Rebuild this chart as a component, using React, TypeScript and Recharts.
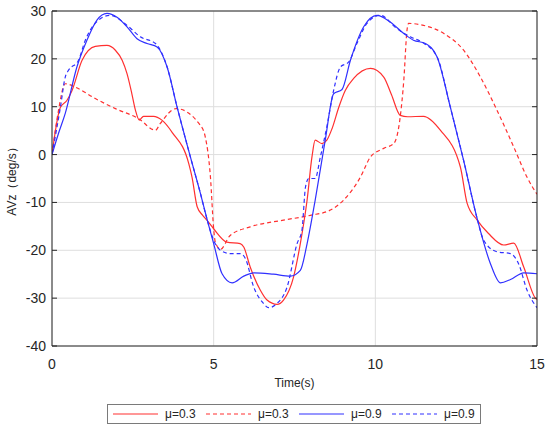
import { LineChart, Line, XAxis, YAxis, CartesianGrid, Legend } from "recharts";

const FONT = '"Liberation Sans", Arial, sans-serif';
const AXIS_COLOR = "#262626";
const RED = "#ff3030";
const BLUE = "#3030ff";

const xTicks = [0, 5, 10, 15];
const yTicks = [-40, -30, -20, -10, 0, 10, 20, 30];

// μ=0.3 solid
const redSolidT = [0, 0.26, 0.46, 0.62, 0.93, 1.34, 1.7, 1.96, 2.17, 2.32, 2.47, 2.58, 2.7, 2.83, 3.14, 3.4, 3.72, 4.23, 4.33, 4.49, 4.65, 4.79, 5.0, 5.41, 5.82, 5.93, 6.13, 6.44, 6.65, 6.96, 7.16, 7.47, 7.68, 7.89, 8.04, 8.14, 8.35, 8.5, 8.66, 8.87, 9.07, 9.33, 9.85, 10.26, 10.5, 10.77, 11.0, 11.49, 12.01, 12.63, 12.84, 13.15, 13.5, 13.97, 14.28, 14.59, 14.95, 15];
const redSolidV = [0, 9.9, 11.3, 13.4, 19.7, 22.6, 22.8, 21.8, 19.7, 16.9, 12.7, 9.3, 7.2, 8.0, 8.0, 7.2, 4.6, -1.9, -4.7, -10.9, -12.6, -13.7, -15.5, -18.3, -18.6, -19.3, -23.5, -28.3, -30.4, -31.3, -30.4, -25.6, -18.6, -9.5, -0.5, 3.0, 2.3, 3.0, 5.4, 9.9, 13.4, 15.9, 18.0, 16.2, 12.5, 8.2, 7.9, 8.0, 5.1, -2.6, -10.2, -13.7, -16.5, -18.9, -18.5, -23.5, -30, -30.3];

// μ=0.3 dashed
const redDashT = [0, 0.2, 0.41, 0.72, 1.34, 1.96, 2.68, 3.2, 3.35, 3.84, 4.59, 4.74, 4.9, 5.0, 5.05, 5.21, 5.51, 6.13, 7.16, 7.99, 8.61, 9.02, 9.54, 9.85, 10.26, 10.57, 10.77, 10.88, 10.98, 11.03, 11.49, 12.12, 12.73, 13.25, 13.76, 14.28, 14.69, 15];
const redDashV = [0, 9.2, 14.8, 14.1, 11.7, 9.6, 7.5, 5.1, 6.5, 9.6, 6.1, 3.7, -4.7, -15.5, -18.3, -19.8, -16.9, -15.1, -13.7, -12.7, -11.6, -9.5, -4.7, -0.5, 1.3, 2.3, 7.9, 15.5, 26, 27.4, 27, 25.3, 21.8, 16.2, 9.3, 1.6, -4.7, -8.3];

// μ=0.9 solid
const blueSolidT = [0, 0.2, 0.41, 0.77, 1.08, 1.39, 1.7, 2.01, 2.32, 2.63, 2.94, 3.25, 3.56, 3.87, 4.28, 4.59, 4.79, 5.0, 5.26, 5.57, 5.93, 6.24, 6.85, 7.37, 7.68, 7.89, 8.14, 8.45, 8.71, 8.97, 9.23, 9.64, 10.05, 10.46, 10.88, 11.18, 11.55, 11.91, 12.32, 12.73, 13.15, 13.56, 13.87, 14.18, 14.59, 15];
const blueSolidV = [0, 4.4, 8.6, 18.3, 23.9, 28.1, 29.5, 28.7, 26.7, 24.2, 23.2, 22.5, 18.3, 9.9, -0.5, -8.1, -13.4, -18.6, -24.9, -26.8, -25.4, -24.7, -25, -25.4, -24.2, -18.6, -9.5, 3, 12.7, 13.6, 19.7, 26.7, 29.1, 27.7, 25.3, 23.9, 23.2, 20.4, 9.9, -1.2, -13.4, -22.8, -26.8, -26.1, -24.7, -24.9];

// μ=0.9 dashed
const blueDashT = [0, 0.26, 0.41, 0.5, 0.82, 1.03, 1.39, 1.8, 2.32, 2.73, 3.2, 3.56, 3.87, 4.28, 4.59, 4.79, 5.0, 5.21, 5.51, 5.82, 5.98, 6.24, 6.54, 6.7, 6.96, 7.27, 7.58, 7.73, 7.84, 7.94, 8.14, 8.3, 8.5, 8.71, 8.92, 9.17, 9.43, 9.74, 10.15, 10.67, 11.08, 11.44, 11.91, 12.32, 12.73, 13.15, 13.35, 13.76, 14.18, 14.43, 14.69, 15];
const blueDashV = [0, 9.9, 16.2, 17.5, 19.7, 23.9, 27.8, 29.1, 27, 24.6, 23.2, 18.3, 9.9, -0.5, -8.1, -13.4, -17.9, -20, -20.7, -20.7, -21.7, -27.7, -31.1, -32, -31.1, -27.7, -18.6, -15.8, -6.8, -5.0, -5.0, -0.5, 5.8, 13.4, 18.3, 19.3, 23.2, 27.4, 29.1, 26.3, 24.6, 23.5, 20.4, 9.9, -1.2, -13.4, -17.9, -20.3, -20.7, -22.8, -28.3, -32];

const toRows = (ts: number[], vs: number[], key: string) =>
  ts.map((t, i) => ({ t, [key]: vs[i] }));

const redSolid = toRows(redSolidT, redSolidV, "rs");
const redDash = toRows(redDashT, redDashV, "rd");
const blueSolid = toRows(blueSolidT, blueSolidV, "bs");
const blueDash = toRows(blueDashT, blueDashV, "bd");

const EmptyTick = () => <g />;

const LegendBox = (props: any) => {
  const items = props.payload || [];
  return (
    <div
      style={{
        display: "flex",
        alignItems: "center",
        boxSizing: "border-box",
        height: 20,
        width: 374,
        border: "1px solid #7a7a7a",
        background: "#fff",
        fontFamily: FONT,
        fontSize: 12,
        color: AXIS_COLOR,
      }}
    >
      {items.map((entry: any, i: number) => (
        <div key={`leg-${i}`} style={{ display: "flex", alignItems: "center", width: 93 }}>
          <svg width={45} height={4} style={{ marginLeft: 5, marginRight: 7 }}>
            <line
              x1={0}
              y1={2}
              x2={45}
              y2={2}
              stroke={entry.color}
              strokeWidth={1.2}
              strokeDasharray={entry.payload?.strokeDasharray}
            />
          </svg>
          <span>{entry.value}</span>
        </div>
      ))}
    </div>
  );
};

export default function App() {
  return (
    <div style={{ position: "absolute", left: 0, top: 0, background: "#fff" }}>
      <LineChart
        width={550}
        height={430}
        margin={{ top: 11, right: 13, left: 0, bottom: 0 }}
        style={{ fontFamily: FONT }}
      >
        <CartesianGrid xAxisId="b" yAxisId="l" stroke="#dedede" strokeWidth={1} />
        <XAxis
          xAxisId="b"
          dataKey="t"
          type="number"
          domain={[0, 15]}
          ticks={xTicks}
          allowDataOverflow
          height={64}
          tickLine={false}
          tickSize={6}
          tickMargin={7}
          axisLine={{ stroke: AXIS_COLOR }}
          tick={{ fontSize: 14, fill: AXIS_COLOR }}
          label={{ value: "Time(s)", position: "insideTop", offset: 32, fontSize: 12, fill: AXIS_COLOR }}
        />
        <XAxis
          xAxisId="bm"
          type="number"
          domain={[0, 15]}
          ticks={xTicks}
          allowDataOverflow
          mirror
          axisLine={false}
          tickSize={5}
          tickLine={{ stroke: AXIS_COLOR }}
          tick={EmptyTick}
        />
        <XAxis
          xAxisId="tm"
          orientation="top"
          type="number"
          domain={[0, 15]}
          ticks={xTicks}
          allowDataOverflow
          mirror
          axisLine={{ stroke: AXIS_COLOR }}
          tickSize={5}
          tickLine={{ stroke: AXIS_COLOR }}
          tick={EmptyTick}
        />
        <YAxis
          yAxisId="l"
          type="number"
          domain={[-40, 30]}
          ticks={yTicks}
          allowDataOverflow
          width={52}
          tickLine={false}
          tickSize={4}
          tickMargin={2}
          axisLine={{ stroke: AXIS_COLOR }}
          tick={{ fontSize: 14, fill: AXIS_COLOR }}
          label={{
            value: "AVz（deg/s）",
            angle: -90,
            position: "insideLeft",
            offset: 12,
            fontSize: 12,
            fill: AXIS_COLOR,
            style: { textAnchor: "middle" },
          }}
        />
        <YAxis
          yAxisId="lm"
          type="number"
          domain={[-40, 30]}
          ticks={yTicks}
          allowDataOverflow
          mirror
          axisLine={false}
          tickSize={5}
          tickLine={{ stroke: AXIS_COLOR }}
          tick={EmptyTick}
        />
        <YAxis
          yAxisId="rm"
          orientation="right"
          type="number"
          domain={[-40, 30]}
          ticks={yTicks}
          allowDataOverflow
          mirror
          axisLine={{ stroke: AXIS_COLOR }}
          tickSize={5}
          tickLine={{ stroke: AXIS_COLOR }}
          tick={EmptyTick}
        />
        <Legend
          verticalAlign="bottom"
          content={LegendBox}
          wrapperStyle={{ left: 107, bottom: 6, width: 374, height: 20 }}
        />
        <Line
          xAxisId="b"
          yAxisId="l"
          data={redSolid}
          dataKey="rs"
          name="μ=0.3"
          type="monotone"
          stroke={RED}
          strokeWidth={1.2}
          dot={false}
          isAnimationActive={false}
        />
        <Line
          xAxisId="b"
          yAxisId="l"
          data={redDash}
          dataKey="rd"
          name="μ=0.3"
          type="monotone"
          stroke={RED}
          strokeWidth={1.2}
          strokeDasharray="4 3"
          dot={false}
          isAnimationActive={false}
        />
        <Line
          xAxisId="b"
          yAxisId="l"
          data={blueSolid}
          dataKey="bs"
          name="μ=0.9"
          type="monotone"
          stroke={BLUE}
          strokeWidth={1.2}
          dot={false}
          isAnimationActive={false}
        />
        <Line
          xAxisId="b"
          yAxisId="l"
          data={blueDash}
          dataKey="bd"
          name="μ=0.9"
          type="monotone"
          stroke={BLUE}
          strokeWidth={1.2}
          strokeDasharray="4 3"
          dot={false}
          isAnimationActive={false}
        />
      </LineChart>
    </div>
  );
}
